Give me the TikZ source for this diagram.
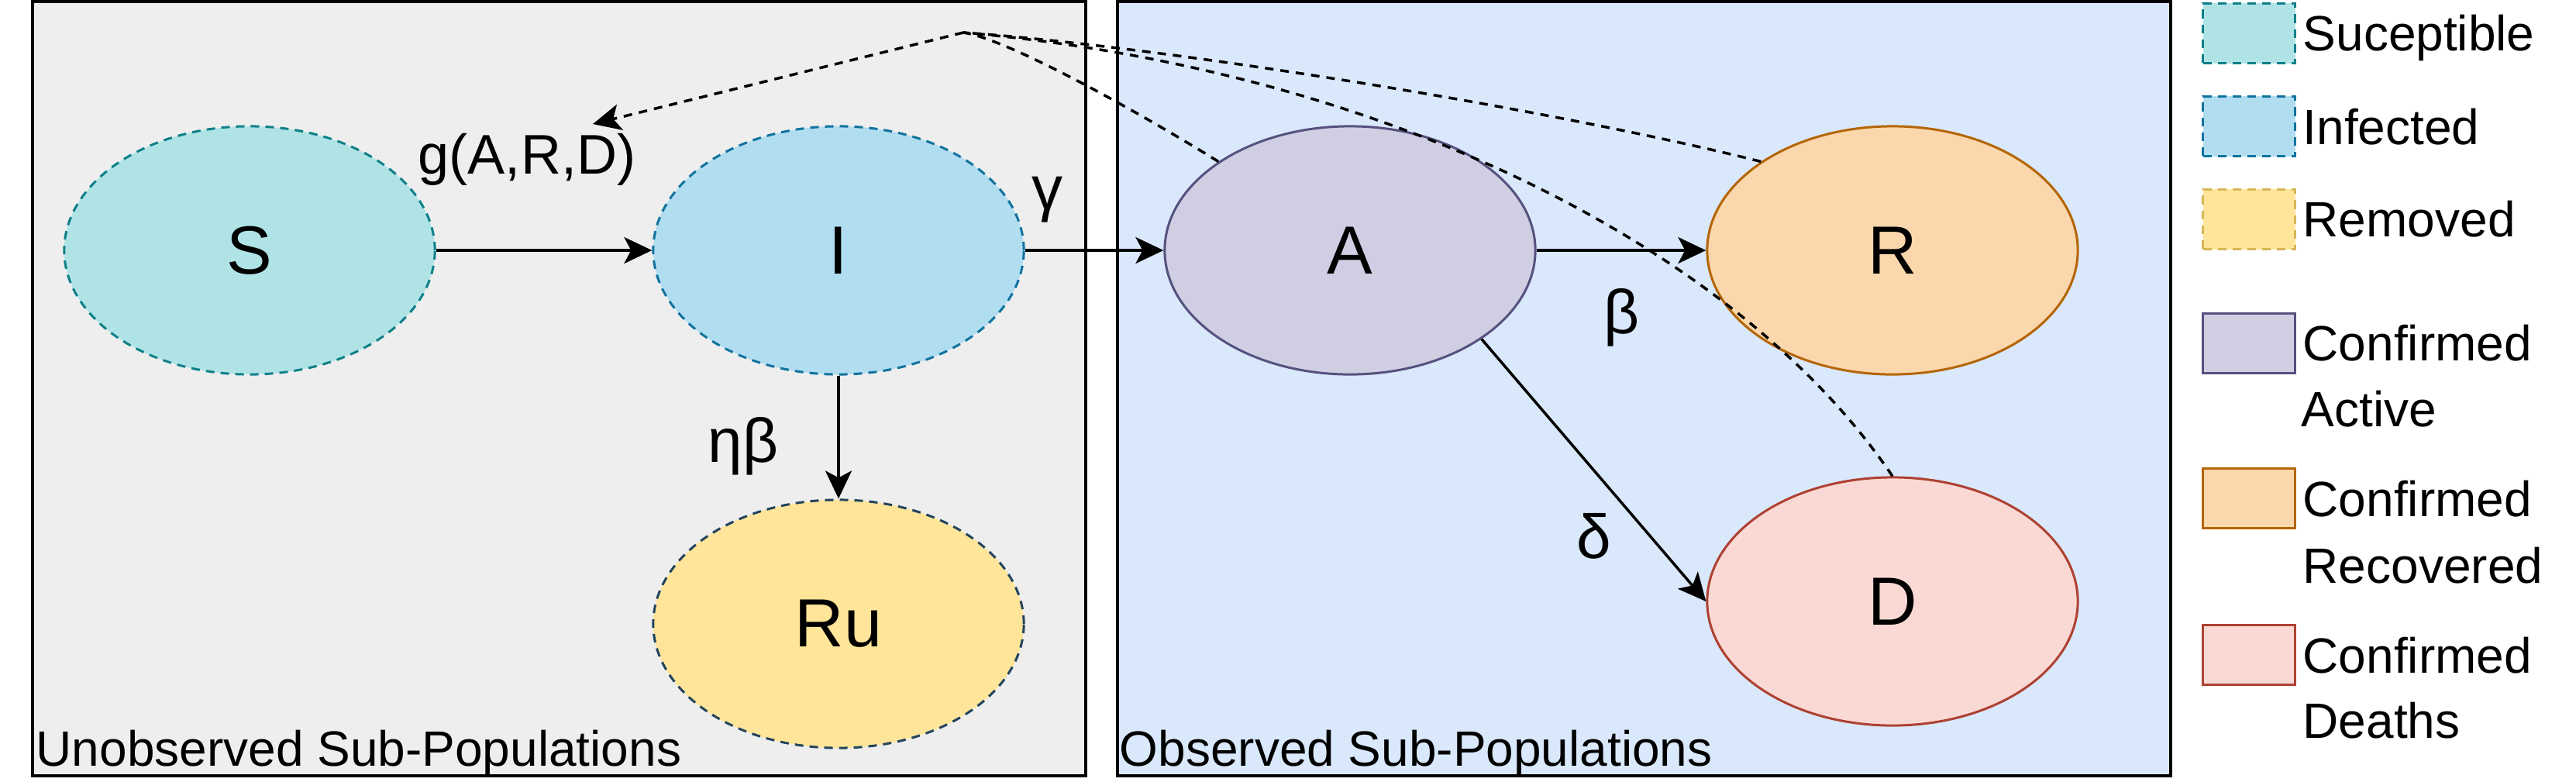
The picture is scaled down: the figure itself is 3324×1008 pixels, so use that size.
\documentclass[tikz,border=0pt]{standalone}
\usepackage{fontspec}
\setmainfont{Liberation Sans}
\usetikzlibrary{arrows.meta,shapes.geometric}
\definecolor{boxgrey}{HTML}{EEEEEE}
\definecolor{boxblue}{HTML}{DAE8FC}
\definecolor{sfill}{HTML}{B0E3E6}
\definecolor{sline}{HTML}{0E8088}
\definecolor{ifill}{HTML}{B1DDF0}
\definecolor{iline}{HTML}{10739E}
\definecolor{rufill}{HTML}{FFE599}
\definecolor{ruline}{HTML}{D6B656}
\definecolor{runode}{HTML}{23445D}
\definecolor{afill}{HTML}{D0CEE2}
\definecolor{aline}{HTML}{56517E}
\definecolor{rfill}{HTML}{FAD7AC}
\definecolor{rline}{HTML}{B46504}
\definecolor{dfill}{HTML}{FAD9D5}
\definecolor{dline}{HTML}{AE4132}
\begin{document}
\begin{tikzpicture}[x=0.01cm,y=-0.01cm,
  region/.style={draw=black,line width=0.04cm},
  compart/.style={ellipse,minimum width=4.78cm,minimum height=3.2cm,inner sep=0pt,line width=0.03cm,font=\fontsize{25pt}{30pt}\selectfont},
  hidden/.style={dash pattern=on 0.11cm off 0.08cm},
  swatch/.style={rectangle,minimum width=1.19cm,minimum height=0.77cm,inner sep=0pt,line width=0.03cm},
  legtext/.style={anchor=base west,inner sep=0pt,font=\fontsize{18.2pt}{21.8pt}\selectfont},
  rate/.style={inner sep=0pt,font=\fontsize{22.8pt}{27pt}\selectfont},
  flow/.style={line width=0.035cm,-{Stealth[length=0.36cm,width=0.34cm,inset=0.09cm]}},
  feedback/.style={line width=0.035cm,dash pattern=on 0.11cm off 0.09cm},
]
\useasboundingbox (0,0) rectangle (3324,1008);
% regions
\draw[region,fill=boxgrey] (42,2) rectangle (1401,1001);
\draw[region,fill=boxblue] (1442,2) rectangle (2801,1001);
\node[legtext] (unobslbl) at (46,988) {Unobserved Sub-Populations};
\node[legtext] (obslbl) at (1444,988) {Observed Sub-Populations};
% compartments
\node[compart,hidden,draw=sline,fill=sfill] (S) at (322,323) {S};
\node[compart,hidden,draw=iline,fill=ifill] (I) at (1082,323) {I};
\node[compart,hidden,draw=runode,fill=rufill] (Ru) at (1082,805) {Ru};
\node[compart,draw=aline,fill=afill] (A) at (1742,323) {A};
\node[compart,draw=rline,fill=rfill] (R) at (2442,323) {R};
\node[compart,draw=dline,fill=dfill] (D) at (2442,776) {D};
% flows
\draw[flow] (S) -- (I);
\draw[flow] (I) -- (A);
\draw[flow] (A) -- (R);
\draw[flow] (I) -- (Ru);
\draw[flow] (A.-34) -- (D.west);
% feedback
\coordinate (apex) at (1243,42);
\coordinate (gtip) at (765,160);
\draw[feedback] (A.146) .. controls (1470,145) and (1300,50) .. (apex);
\draw[feedback] (R.146) .. controls (2000,140) and (1500,60) .. (apex);
\draw[feedback] (D.north) .. controls (2250,330) and (1800,90) .. (apex);
\draw[feedback,-{Stealth[length=0.36cm,width=0.34cm,inset=0.09cm]}] (apex) -- (gtip);
% rate labels
\node[inner sep=0pt,font=\fontsize{20.5pt}{24pt}\selectfont] (glbl) at (680,206) {g(A,R,D)};
\node[rate] (gammalbl) at (1352,258) {γ};
\node[rate] (etabetalbl) at (959,576) {ηβ};
\node[rate] (betalbl) at (2093,410) {β};
\node[rate] (deltalbl) at (2057,692) {δ};
% legend
\node[swatch,hidden,draw=sline,fill=sfill] (legS) at (2902,43) {};
\node[swatch,hidden,draw=iline,fill=ifill] (legI) at (2902,163) {};
\node[swatch,hidden,draw=ruline,fill=rufill] (legRu) at (2902,283) {};
\node[swatch,draw=aline,fill=afill] (legA) at (2902,443) {};
\node[swatch,draw=rline,fill=rfill] (legR) at (2902,643) {};
\node[swatch,draw=dline,fill=dfill] (legD) at (2902,845) {};
\node[legtext] (legStxt) at (2971,65) {Suceptible};
\node[legtext] (legItxt) at (2971,186) {Infected};
\node[legtext] (legRutxt) at (2971,305) {Removed};
\node[legtext] (legAtxt) at (2971,465) {Confirmed};
\node[legtext] (legAtxtb) at (2969,550) {Active};
\node[legtext] (legRtxt) at (2971,666) {Confirmed};
\node[legtext] (legRtxtb) at (2971,752) {Recovered};
\node[legtext] (legDtxt) at (2971,868) {Confirmed};
\node[legtext] (legDtxtb) at (2971,952) {Deaths};
\end{tikzpicture}
\end{document}
